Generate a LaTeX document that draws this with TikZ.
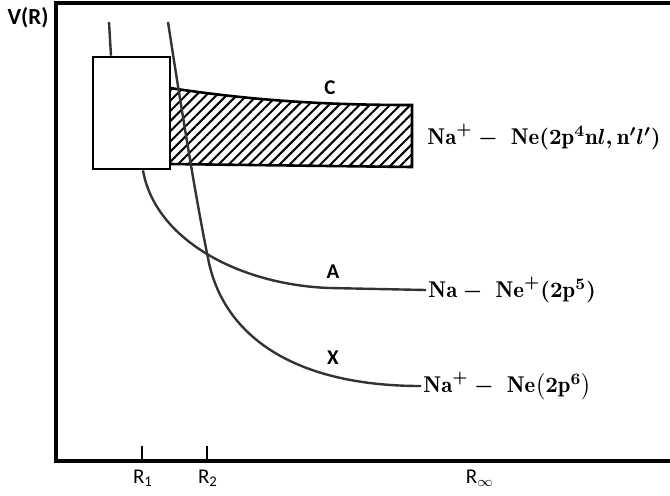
\documentclass[tikz,border=0pt]{standalone}
\usepackage{amsmath}
\usepackage{fontspec}
\setsansfont{Carlito}
\usetikzlibrary{patterns.meta}

\begin{document}
\begin{tikzpicture}[
        x=0.5pt, y=-0.5pt,
        % styles
        axisline/.style={line width=1.8pt},
        curve/.style={line width=1.2pt, draw=black!80},
        boxline/.style={line width=1.3pt},
        tick/.style={line width=0.8pt},
        curvelabel/.style={font=\sffamily\bfseries\fontsize{10.5}{12}\selectfont, inner sep=0pt},
        ticklabel/.style={font=\sffamily\fontsize{10.5}{12}\selectfont, inner sep=0pt},
        statelabel/.style={anchor=west, inner sep=1pt, font=\fontsize{11.4}{13}\selectfont\boldmath}
    ]
    \useasboundingbox (0,0) rectangle (670,495);

    % --- 1. AXES ---
    \draw[axisline] (670,3) -- (56,3) -- (56,461) -- (670,461);
    \node[font=\sffamily\bfseries\fontsize{11.5}{13}\selectfont, inner sep=0pt] (vr) at (28,18) {V(R)};

    \coordinate (t1) at (142,461);
    \coordinate (t2) at (207,461);
    \draw[tick] (t1) -- ++(0,-15);
    \draw[tick] (t2) -- ++(0,-15);
    \node[ticklabel] (r1) at (143,478) {R\textsubscript{1}};
    \node[ticklabel] (r2) at (208,478) {R\textsubscript{2}};
    \node[ticklabel] (rinf) at (480,478) {R$_\infty$};

    % --- 2. HATCHED BAND C ---
    \coordinate (bandtl) at (170,88);
    \coordinate (bandtr) at (412,105);
    \coordinate (bandbr) at (412,167);
    \coordinate (bandbl) at (170,164);
    \draw[boxline, pattern={Lines[angle=45, distance=3.6pt, line width=1pt]}]
        (bandtl) .. controls (250,100) and (320,105) .. (bandtr) -- (bandbr) -- (bandbl);

    % --- 3. BOX ---
    \node[draw, boxline, fill=white, minimum width=38.5pt, minimum height=56pt, inner sep=0pt] (box) at (131.5,113) {};
    \draw[curve] (109,22) -- (box.north -| 111,0);

    % --- 4. LABELS ---
    \node[curvelabel] (lc) at (330,88) {C};
    \node[curvelabel] (la) at (333,272) {A};
    \node[curvelabel] (lx) at (333,358) {X};
    \node[statelabel] (sc) at (425,137) {$\mathrm{Na}^{+}-\ \mathrm{Ne}(2\mathrm{p}^{4}\mathrm{n}l,\mathrm{n}'l')$};
    \node[statelabel] (sa) at (426,290) {$\mathrm{Na}-\ \mathrm{Ne}^{+}(2\mathrm{p}^{5})$};
    \node[statelabel] (sx) at (421,386) {$\mathrm{Na}^{+}-\ \mathrm{Ne}\big(2\mathrm{p}^{6}\big)$};

    % --- 5. POTENTIAL CURVES ---
    \draw[curve] (box.south -| 143,0) .. controls (155,240) and (240,285) .. (330,288) -- (sa.west);
    \draw[curve] (168,22) .. controls (180,100) and (196,200) .. (208,258)
        .. controls (222,333) and (290,386) .. (sx.west);

\end{tikzpicture}
\end{document}
